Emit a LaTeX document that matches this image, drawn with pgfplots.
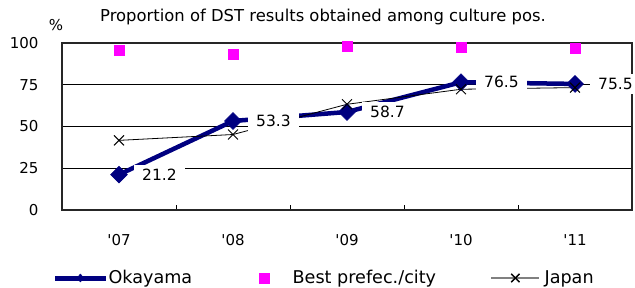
\documentclass[border=0pt]{standalone}
\usepackage{fontspec}
\setmainfont{DejaVu Sans}
\usepackage{pgfplots}
\pgfplotsset{compat=1.18}
\definecolor{navy}{RGB}{0,0,128}
\definecolor{pinkm}{RGB}{255,0,255}
\newcommand{\fs}{\fontsize{15bp}{18bp}\selectfont}
\newcommand{\fl}{\fontsize{15.5bp}{18bp}\selectfont}
\newcommand{\ft}{\fontsize{16.4bp}{19bp}\selectfont}
\newcommand{\fg}{\fontsize{17.6bp}{20bp}\selectfont}
\begin{document}
\begin{tikzpicture}
\begin{axis}[
  at={(62bp,78bp)}, anchor=south west,
  scale only axis, width=570bp, height=167bp,
  xmin=-0.5, xmax=4.5, ymin=0, ymax=100,
  clip=false,
  xtick={0,1,2,3,4},
  xticklabels={\textquotesingle 07,\textquotesingle 08,\textquotesingle 09,\textquotesingle 10,\textquotesingle 11},
  minor xtick={0.5,1.5,2.5,3.5},
  major tick length=0pt,
  minor tick length=5bp,
  tick align=inside,
  xtick pos=bottom,
  ytick={0,25,50,75,100},
  ytick pos=left,
  ymajorgrids,
  grid style={black, line width=0.8bp},
  minor tick style={black, line width=0.8bp},
  axis line style={black!85, line width=1.2bp},
  tick label style={font=\fs},
  /pgf/number format/assume math mode=true,
  xticklabel style={yshift=-21bp},
  yticklabel style={xshift=-20bp},
  title={Proportion of DST results obtained among culture pos.},
  title style={font=\ft, at={(0.0667,1.0958)}, anchor=base west, inner sep=0pt, yshift=0pt},
  ylabel={\%},
  every axis y label/.style={at={(-0.0105,1.072)}, anchor=base, font=\fs, inner sep=0pt},
  legend columns=3,
  legend style={at={(-0.0123,-0.407)}, anchor=west, draw=none, fill=none,
    inner sep=0pt, font=\fg, nodes={inner xsep=2bp},
    /tikz/column 2/.style={column sep=50bp},
    /tikz/column 4/.style={column sep=53bp}},
  legend cell align=left,
]
\addplot[forget plot, navy, line width=4.5bp, mark=square*, mark size=6bp,
  mark options={rotate=45, line width=0.5bp, fill=navy}]
  coordinates {(0,21.2) (1,53.3) (2,58.7) (3,76.5) (4,75.5)};
\addplot[forget plot, only marks, mark=square*, mark size=5bp, color=pinkm]
  coordinates {(0,95.5) (1,93) (2,98) (3,97.6) (4,97)};
\addplot[forget plot, black, line width=0.8bp, mark=x, mark size=7bp,
  mark options={line width=1bp}]
  coordinates {(0,41.7) (1,45.2) (2,63.3) (3,72.3) (4,73.3)};
\addplot[draw=none, forget plot, nodes near coords,
  nodes near coords={\pgfmathprintnumber[fixed,fixed zerofill,precision=1]{\pgfplotspointmeta}},
  every node near coord/.style={anchor=west, xshift=15bp, fill=white, inner xsep=8bp, inner ysep=4bp, font=\fl, text=black}]
  coordinates {(0,21.2) (1,53.3) (2,58.7) (3,76.5) (4,75.5)};
\addlegendimage{legend image code/.code={
    \fill[navy] (0bp,-2bp) rectangle (50bp,2bp);
    \fill[navy] (25bp,4bp) -- (28.5bp,0bp) -- (25bp,-4bp) -- (21.5bp,0bp) -- cycle;
    \fill[white, opacity=0] (50bp,-1bp) rectangle (51bp,1bp);
  }}
\addlegendentry{Okayama}
\addlegendimage{legend image code/.code={
    \fill[pinkm] (15bp,-5bp) rectangle (25bp,5bp);
    \fill[white, opacity=0] (0bp,-1bp) rectangle (46bp,1bp);
  }}
\addlegendentry{Best prefec./city}
\addlegendimage{legend image code/.code={
    \fill[gray] (0bp,-0.5bp) rectangle (47bp,0.5bp);
    \fill[black] (19.65bp,-3.65bp) -- (27.65bp,4.35bp) -- (28.35bp,3.65bp) -- (20.35bp,-4.35bp) -- cycle;
    \fill[black] (20.35bp,4.35bp) -- (28.35bp,-3.65bp) -- (27.65bp,-4.35bp) -- (19.65bp,3.65bp) -- cycle;
    \fill[white, opacity=0] (47bp,-1bp) rectangle (51bp,1bp);
  }}
\addlegendentry{Japan}
\end{axis}
\pgfresetboundingbox
\path[use as bounding box] (0bp,0bp) rectangle (635bp,288bp);
\end{tikzpicture}
\end{document}
